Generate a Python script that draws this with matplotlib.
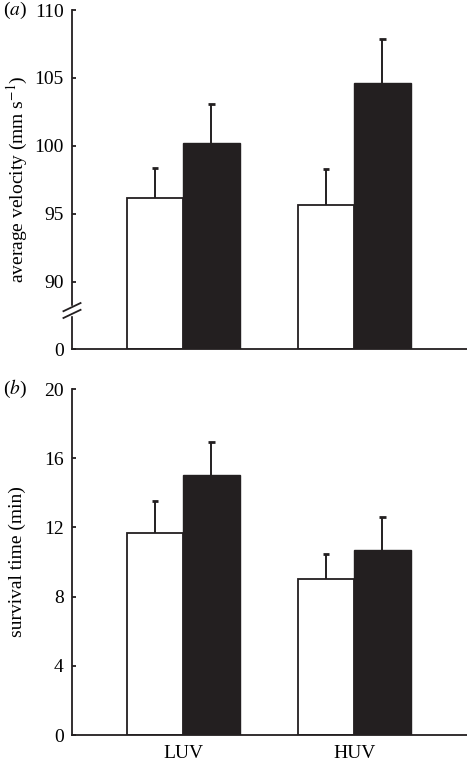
import matplotlib
matplotlib.use("Agg")
import matplotlib.pyplot as plt
import numpy as np

plt.rcParams['font.family'] = ['Liberation Serif', 'DejaVu Serif']
plt.rcParams['mathtext.fontset'] = 'stix'

categories = ["LUV", "HUV"]
# panel (a): average velocity (mm s^-1)
vel_white = [96.2, 95.65]
vel_white_err = [2.2, 2.65]
vel_black = [100.2, 104.6]
vel_black_err = [2.9, 3.3]
vel_ticks = [90, 95, 100, 105, 110]
# panel (b): survival time (min)
surv_white = [11.68, 9.02]
surv_white_err = [1.85, 1.44]
surv_black = [15.03, 10.69]
surv_black_err = [1.91, 1.9]
surv_ticks = [0, 4, 8, 12, 16, 20]

W, H = 467, 765
fig = plt.figure(figsize=(W/100, H/100), dpi=100)

ax1 = fig.add_axes([72/W, 1-349/H, 1-72/W, (349-10)/H])
ax2 = fig.add_axes([72/W, 1-735/H, 1-72/W, (735-389)/H])

x = np.arange(len(categories))
bw = 0.33
dark = '#231f20'
base = 85.07  # axis position representing 0 (broken axis)
FS = 14

def draw(ax, white, werr, black, berr, bottom):
    wh = [v - bottom for v in white]
    bh = [v - bottom for v in black]
    ax.bar(x - bw/2, wh, bw, bottom=bottom, color='white', edgecolor=dark, linewidth=1.3, zorder=2)
    ax.bar(x + bw/2, bh, bw, bottom=bottom, color=dark, edgecolor=dark, linewidth=1.0, zorder=2)
    for xs, vals, errs in ((x - bw/2, white, werr), (x + bw/2, black, berr)):
        tops = [v + e for v, e in zip(vals, errs)]
        ax.vlines(xs, vals, tops, color=dark, lw=1.4, zorder=3)
        ax.hlines(tops, xs - 0.02, xs + 0.02, color=dark, lw=2.0, zorder=3)
    ax.set_xlim(-0.65, 1.66)
    for s in ['top', 'right']:
        ax.spines[s].set_visible(False)
    for s in ['left', 'bottom']:
        ax.spines[s].set_linewidth(1.3)
        ax.spines[s].set_color(dark)
    ax.tick_params(axis='y', direction='in', length=3, width=1.3, labelsize=FS, pad=6, colors=dark)
    ax.tick_params(axis='y', labelcolor='black')
    ax.tick_params(axis='x', length=0, labelsize=FS, pad=7)

draw(ax1, vel_white, vel_white_err, vel_black, vel_black_err, base)
ax1.set_ylim(base, 110)
ax1.set_yticks([base] + vel_ticks)
ax1.set_yticklabels(['0'] + [str(t) for t in vel_ticks])
ax1.set_xticks([])
ax1.set_ylabel('average velocity (mm s$^{-1}$)', fontsize=FS, labelpad=3)

# break marks on axis
yb = 87.9
ax1.fill_between([-0.67, -0.63], yb - 0.3, yb + 0.3, color='white', clip_on=False, zorder=4)
for dy in (-0.25, 0.25):
    ax1.plot([-0.65 - 0.05, -0.65 + 0.05], [yb + dy - 0.3, yb + dy + 0.3],
             color=dark, lw=1.3, clip_on=False, zorder=5)

draw(ax2, surv_white, surv_white_err, surv_black, surv_black_err, 0)
ax2.set_ylim(0, 20)
ax2.set_yticks(surv_ticks)
ax2.set_xticks(x)
ax2.set_xticklabels(categories)
ax2.set_ylabel('survival time (min)', fontsize=FS, labelpad=13)

fig.text(3/W, 1-10/H, r'($a$)', fontsize=FS, va='center', ha='left')
fig.text(3/W, 1-389/H, r'($b$)', fontsize=FS, va='center', ha='left')

fig.savefig('out.png', dpi=100)
